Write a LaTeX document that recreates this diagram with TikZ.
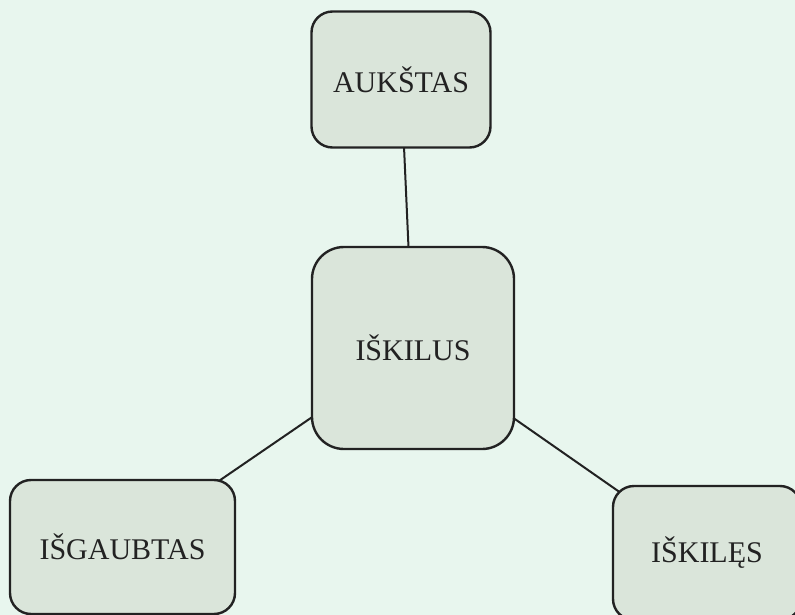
\documentclass[tikz,border=0pt]{standalone}
\usepackage{fontspec}
\setmainfont{Liberation Serif}
\usetikzlibrary{backgrounds}
\definecolor{pagebg}{HTML}{E8F6EE}
\definecolor{boxfill}{HTML}{DAE5DA}
\definecolor{inkdark}{HTML}{222222}
\tikzset{
    wordbox/.style = {draw=inkdark, line width=2.4pt, fill=boxfill, rounded corners=21pt,
        inner sep=0pt, text=inkdark, font=\fontsize{30}{35}\selectfont},
    link/.style = {draw=inkdark, line width=2pt}
}

\begin{document}
\begin{tikzpicture}[x=1pt, y=-1pt]
    \useasboundingbox (0,0) rectangle (795,615);
    % centre word and its three neighbours
    \node (iskilus) at (413,348) [wordbox, rounded corners=32pt, minimum width=202pt, minimum height=202pt] {IŠKILUS};
    \node (aukstas) at (401,79.5) [wordbox, minimum width=179pt, minimum height=136pt] {AUKŠTAS};
    \node (isgaubtas) at (122.5,547) [wordbox, minimum width=225pt, minimum height=134pt] {IŠGAUBTAS};
    \node (iskiles) at (707,553) [wordbox, minimum width=188pt, minimum height=134pt] {IŠKILĘS};
    \begin{pgfonlayer}{background}
        \fill [pagebg] (0,0) rectangle (795,615);
        \draw [link] (iskilus.center) -- (aukstas.center);
        \draw [link] (iskilus.center) -- (isgaubtas.center);
        \draw [link] (iskilus.center) -- (iskiles.center);
    \end{pgfonlayer}
\end{tikzpicture}
\end{document}
